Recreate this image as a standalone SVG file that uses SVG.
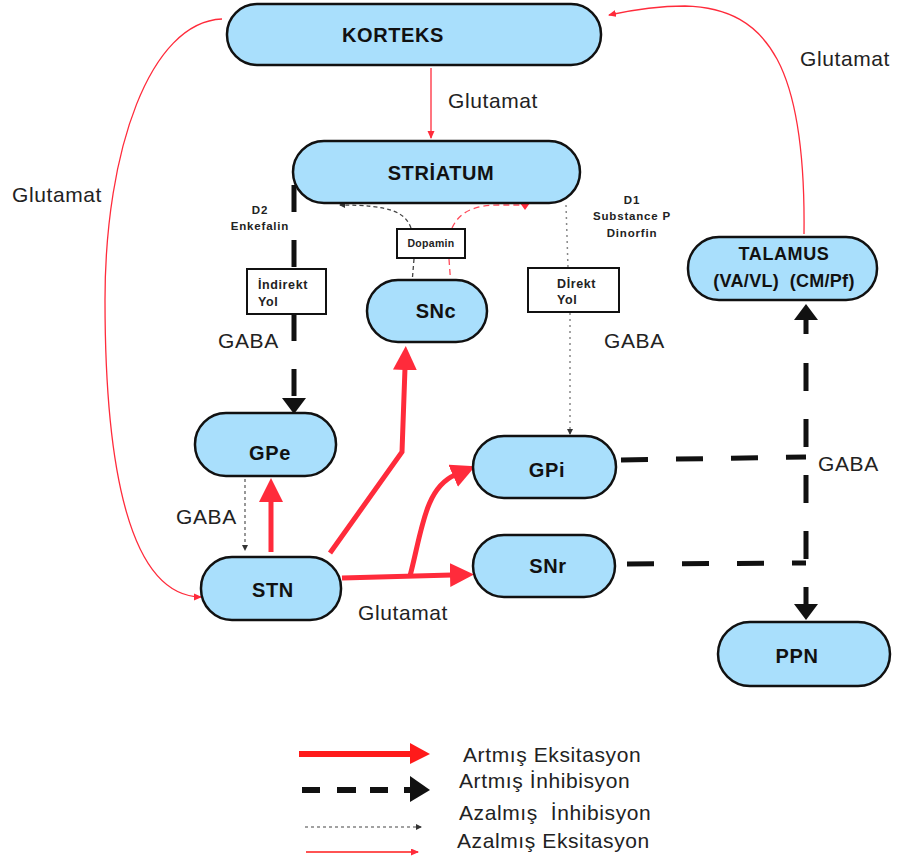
<svg xmlns="http://www.w3.org/2000/svg" width="897" height="861" viewBox="0 0 897 861">
<style>
.node{fill:#a9dffc;stroke:#111;stroke-width:2.5}
.nl{font-family:"Liberation Sans",Arial,sans-serif;font-weight:bold;font-size:20px;fill:#111;text-anchor:middle;letter-spacing:0.6px}
.lb{font-family:"Liberation Sans",Arial,sans-serif;font-size:21px;fill:#222;letter-spacing:0.6px}
.lg{font-family:"Liberation Sans",Arial,sans-serif;font-size:21px;fill:#222;letter-spacing:0.6px}
.sm{font-family:"Liberation Sans",Arial,sans-serif;font-weight:bold;font-size:11.5px;fill:#222;letter-spacing:0.8px}
.box{fill:#fff;stroke:#111;stroke-width:2}
.redThick{fill:none;stroke:#ff2b3b;stroke-width:5}
.redThin{fill:none;stroke:#ff2b3b;stroke-width:1.3}
.blkDash{fill:none;stroke:#111;stroke-width:5;stroke-dasharray:27 28}
.dot{fill:none;stroke:#444;stroke-width:1.1;stroke-dasharray:3 3}
.gdot{fill:none;stroke:#888;stroke-width:1.5;stroke-dasharray:2 4}
.rdash{fill:none;stroke:#ff4a5a;stroke-width:1.3;stroke-dasharray:6 4}
.kdash{fill:none;stroke:#444;stroke-width:1.3;stroke-dasharray:4 3}
</style>
<defs>
<marker id="hRed" markerUnits="userSpaceOnUse" markerWidth="26" markerHeight="26" refX="2" refY="12" orient="auto"><path d="M0,0 L24,12 L0,24 z" fill="#ff2b3b"/></marker>
<marker id="hBlk" markerUnits="userSpaceOnUse" markerWidth="26" markerHeight="26" refX="2" refY="12" orient="auto-start-reverse"><path d="M0,0 L16,12 L0,24 z" fill="#111"/></marker>
<marker id="hRedS" markerUnits="userSpaceOnUse" markerWidth="10" markerHeight="10" refX="7" refY="3.5" orient="auto"><path d="M0,0 L8,3.5 L0,7 z" fill="#ff2b3b"/></marker>
<marker id="hDot" markerUnits="userSpaceOnUse" markerWidth="8" markerHeight="8" refX="5" refY="3" orient="auto"><path d="M0,0 L6,3 L0,6 z" fill="#333"/></marker>
</defs>

<g id="connectors">
  <!-- Korteks -> Striatum -->
  <path class="redThin" d="M431,68 L431,138" marker-end="url(#hRedS)"/>
  <!-- Korteks -> STN -->
  <path class="redThin" d="M222,19 C150,22 105,150 105,300 C105,470 130,596 201,597" marker-end="url(#hRedS)"/>
  <!-- Talamus -> Korteks -->
  <path class="redThin" d="M804,234 C806,70 770,8 685,6 C655,6 632,10 609,15" marker-end="url(#hRedS)"/>
  <!-- Indirect path -->
  <path class="blkDash" d="M294,185 L294,268"/>
  <path class="blkDash" d="M294,314 L294,400" marker-end="url(#hBlk)"/>
  <!-- Direct path -->
  <path class="gdot" d="M566,205 L568,268"/>
  <path class="gdot" d="M570,313 L570,434" marker-end="url(#hDot)"/>
  <!-- Dopamine -->
  <path class="kdash" d="M411,228 C405,212 390,205 340,205" marker-end="url(#hDot)"/>
  <path class="rdash" d="M452,228 C460,211 475,205 500,205 L522,205"/>
  <path d="M520,203 L530,203 L525,210 z" fill="#ff2b3b"/>
  <path class="kdash" d="M414,259 L412,283"/>
  <path class="rdash" d="M449,259 L451,287"/>
  <!-- GPe -> STN -->
  <path class="dot" d="M245,479 L245,550" marker-end="url(#hDot)"/>
  <!-- STN -> GPe -->
  <path class="redThick" d="M271,552 L271,500" marker-end="url(#hRed)"/>
  <!-- STN -> SNc -->
  <path class="redThick" d="M330,553 L402,452 L405,368" marker-end="url(#hRed)"/>
  <!-- STN -> SNr -->
  <path class="redThick" d="M342,578 L452,575" marker-end="url(#hRed)"/>
  <!-- branch -> GPi -->
  <path class="redThick" d="M410,576 C422,530 425,488 455,475" marker-end="url(#hRed)"/>
  <!-- GPi, SNr -> vertical -->
  <path class="blkDash" d="M621,460 L806,457"/>
  <path class="blkDash" d="M627,564 L806,563"/>
  <path class="blkDash" style="stroke-dasharray:16 29 28 28 28 28 28 28 28 28 28 28" d="M806,318 L806,606" marker-start="url(#hBlk)" marker-end="url(#hBlk)"/>
</g>

<g id="korteks"><rect class="node" x="227" y="4" width="374" height="61" rx="30"/><text class="nl" x="393" y="42">KORTEKS</text></g>
<g id="striatum"><rect class="node" x="293" y="141" width="287" height="62" rx="31"/><text class="nl" x="441" y="180">STRİATUM</text></g>
<g id="snc"><rect class="node" x="367" y="280" width="120" height="62" rx="31"/><text class="nl" x="436" y="318">SNc</text></g>
<g id="talamus"><rect class="node" x="688" y="237" width="189" height="63" rx="31"/><text class="nl" style="font-size:18px" x="784" y="260">TALAMUS</text><text class="nl" style="font-size:18px;letter-spacing:0.3px" x="784" y="287" xml:space="preserve">(VA/VL)  (CM/Pf)</text></g>
<g id="gpe"><rect class="node" x="195" y="413" width="141" height="63" rx="31"/><text class="nl" x="270" y="460">GPe</text></g>
<g id="gpi"><rect class="node" x="473" y="436" width="143" height="62" rx="31"/><text class="nl" x="547" y="477">GPi</text></g>
<g id="stn"><rect class="node" x="201" y="557" width="140" height="63" rx="31"/><text class="nl" x="273" y="597">STN</text></g>
<g id="snr"><rect class="node" x="473" y="535" width="142" height="62" rx="31"/><text class="nl" x="548" y="573">SNr</text></g>
<g id="ppn"><rect class="node" x="718" y="622" width="172" height="64" rx="32"/><text class="nl" x="797" y="663">PPN</text></g>

<g id="indirekt-yol"><rect class="box" x="247" y="269" width="79" height="45"/><text class="sm" style="font-size:12.5px;letter-spacing:0.6px" x="258" y="289">İndirekt</text><text class="sm" style="font-size:12.5px;letter-spacing:0.6px" x="258" y="306">Yol</text></g>
<g id="direkt-yol"><rect class="box" x="528" y="268" width="91" height="44"/><text class="sm" style="font-size:12.5px;letter-spacing:0.6px" x="557" y="288">Dİrekt</text><text class="sm" style="font-size:12.5px;letter-spacing:0.6px" x="557" y="304">Yol</text></g>
<g id="dopamin"><rect class="box" x="397" y="229" width="68" height="29"/><text class="sm" style="font-size:10.5px;letter-spacing:0.3px" x="431" y="247" text-anchor="middle">Dopamin</text></g>

<g id="labels">
  <text class="lb" x="448" y="108">Glutamat</text>
  <text class="lb" x="12" y="202">Glutamat</text>
  <text class="lb" x="800" y="66">Glutamat</text>
  <text class="lb" x="358" y="620">Glutamat</text>
  <text class="lb" x="218" y="348">GABA</text>
  <text class="lb" x="604" y="348">GABA</text>
  <text class="lb" x="818" y="471">GABA</text>
  <text class="lb" x="176" y="524">GABA</text>
  <text class="sm" x="260" y="214" text-anchor="middle">D2</text>
  <text class="sm" x="260" y="230" text-anchor="middle">Enkefalin</text>
  <text class="sm" x="632" y="204" text-anchor="middle">D1</text>
  <text class="sm" x="632" y="220" text-anchor="middle">Substance P</text>
  <text class="sm" x="632" y="237" text-anchor="middle">Dinorfin</text>
</g>

<g id="legend">
  <path fill="none" stroke="#ff1a1a" stroke-width="6" d="M299,754 L412,754"/>
  <path d="M410,743 L430,754 L410,764 z" fill="#ff1a1a"/>
  <path fill="none" stroke="#111" stroke-width="6" d="M302,790 L320,790 M337,790 L356,790 M370,790 L388,790 M404,790 L412,790"/>
  <path d="M410,776 L430,790 L410,802 z" fill="#111"/>
  <path class="dot" d="M305,827 L421,827" marker-end="url(#hDot)"/>
  <path class="redThin" style="stroke:#ff1a1a" d="M306,852 L418,852" marker-end="url(#hRedS)"/>
  <text class="lg" x="463" y="762">Artmış Eksitasyon</text>
  <text class="lg" x="459" y="788">Artmış İnhibisyon</text>
  <text class="lg" x="459" y="820" xml:space="preserve">Azalmış  İnhibisyon</text>
  <text class="lg" x="457" y="848">Azalmış Eksitasyon</text>
</g>
</svg>
